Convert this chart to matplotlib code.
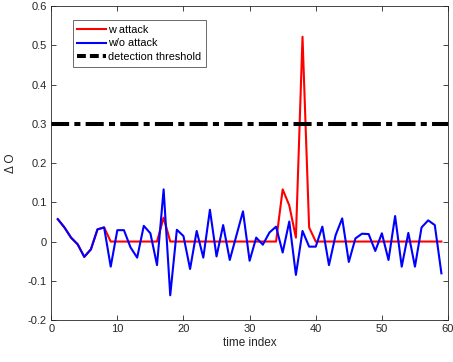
import numpy as np
import matplotlib
matplotlib.use("Agg")
from matplotlib import pyplot as plt

plt.rcParams['font.family'] = ['Liberation Sans', 'DejaVu Sans']

# time index 1..59
t = np.arange(1, 60)

# w/o attack (blue)
wo_attack = [0.057, 0.036, 0.010, -0.007, -0.039, -0.020, 0.031, 0.036, -0.064, 0.029,
             0.029, -0.015, -0.041, 0.040, 0.021, -0.060, 0.133, -0.137, 0.030, 0.014,
             -0.070, 0.027, -0.041, 0.081, -0.038, 0.042, -0.047, 0.015, 0.077, -0.049,
             0.010, -0.008, 0.023, 0.038, -0.028, 0.051, -0.085, 0.027, -0.013, -0.013,
             0.038, -0.060, 0.016, 0.059, -0.052, 0.008, 0.020, 0.019, -0.024, 0.021,
             -0.047, 0.065, -0.064, 0.022, -0.064, 0.036, 0.054, 0.042, -0.081]

# w attack (red)
w_attack = [0.057, 0.036, 0.010, -0.007, -0.039, -0.020, 0.031, 0.036, 0, 0,
            0, 0, 0, 0, 0, 0, 0.061, 0, 0, 0,
            0, 0, 0, 0, 0, 0, 0, 0, 0, 0,
            0, 0, 0, 0, 0.133, 0.092, 0.010, 0.522, 0.036, 0,
            0, 0, 0, 0, 0, 0, 0, 0, 0, 0,
            0, 0, 0, 0, 0, 0, 0, 0, 0]

threshold = 0.3

fig = plt.figure(figsize=(4.53, 3.62), dpi=100)
ax = fig.add_axes([0.113, 0.116, 0.876, 0.867])

ax.plot(t, w_attack, color="#ff0000", lw=1.5, label="w attack")
ax.plot(t, wo_attack, color="#0000ff", lw=1.5, label="w/o attack")
ax.plot([0, 60], [threshold, threshold], color="k", lw=2.9,
        dashes=(4.5, 1.3, 1.5, 1.3), label="detection threshold")

ax.set_xlim(0, 60)
ax.set_ylim(-0.2, 0.6)
ax.set_xticks(np.arange(0, 61, 10))
ax.set_yticks(np.round(np.arange(-0.2, 0.61, 0.1), 1))
ax.set_yticklabels(["-0.2", "-0.1", "0", "0.1", "0.2", "0.3", "0.4", "0.5", "0.6"])
ax.tick_params(direction="in", length=3.5, width=0.6, labelsize=8, top=True, right=True,
               colors="#262626", labelcolor="#262626", pad=3)
for s in ax.spines.values():
    s.set_linewidth(0.6)
    s.set_color("#262626")

ax.set_xlabel("time index", fontsize=8.5, labelpad=2, color="#262626")
ax.set_ylabel("\u0394 O", fontsize=8.5, labelpad=8, color="#262626")

leg = ax.legend(loc="upper left", bbox_to_anchor=(0.055, 0.955), fontsize=7.8,
                frameon=True, fancybox=False, handlelength=2.6, handletextpad=0.25,
                borderpad=0.4, labelspacing=0.35, borderaxespad=0)
leg.get_frame().set_edgecolor("#262626")
leg.get_frame().set_linewidth(0.6)
leg.legend_handles[2].set_dashes((2.2, 1.0))

fig.savefig("out.png", dpi=100)
